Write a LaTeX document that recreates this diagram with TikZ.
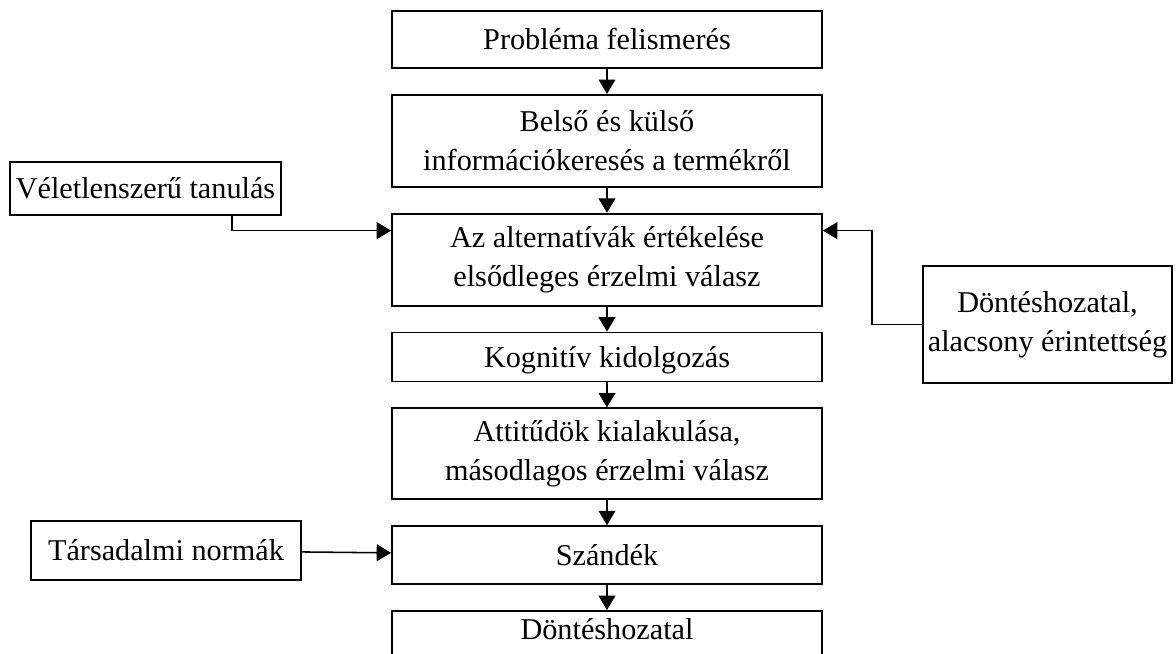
\documentclass[tikz,border=0pt]{standalone}
\usepackage{fontspec}
\setmainfont{Liberation Serif}
\usetikzlibrary{positioning,arrows.meta}

\begin{document}
\begin{tikzpicture}[
  node distance=0.625cm,
  mainbox/.style={rectangle, draw=black, line width=1.3pt, minimum width=10.75cm, align=center, font=\fontsize{21.5}{27.5}\selectfont},
  sidebox/.style={rectangle, draw=black, line width=1.3pt, align=center, font=\fontsize{21.5}{27.5}\selectfont},
  arrow/.style = {line width=1.1pt,-{Triangle[length=0.36cm,width=0.42cm]}}
]
\useasboundingbox (0,0) rectangle (29.4,-16.325);

%Nodes
\node[mainbox, minimum height=1.425cm] (prob) at (15.175,-0.9875) {Probléma felismerés};
\node[mainbox, minimum height=2.3cm, below=of prob] (info) {Belső és külső \\ információkeresés a termékről};
\node[mainbox, minimum height=2.3cm, below=of info] (alt) {Az alternatívák értékelése \\ elsődleges érzelmi válasz};
\node[mainbox, minimum height=1.225cm, text depth=0pt, below=of alt] (kogn) {Kognitív kidolgozás};
\node[mainbox, minimum height=2.275cm, below=of kogn] (att) {Attitűdök kialakulása, \\ másodlagos érzelmi válasz};
\node[mainbox, minimum height=1.45cm, below=of att] (szand) {Szándék};
\node[mainbox, minimum height=2cm, below=of szand] (dont) {Döntéshozatal \\[-4pt] \strut};

%Side boxes
\node[sidebox, minimum width=6.775cm, minimum height=1.325cm] (vel) at (3.6375,-4.7125) {Véletlenszerű tanulás};
\node[sidebox, minimum width=6.225cm, minimum height=2.925cm] (alacs) at (26.1875,-8.1125) {Döntéshozatal, \\ alacsony érintettség};
\node[sidebox, minimum width=6.75cm, minimum height=1.475cm] (tars) at (4.15,-13.7625) {Társadalmi normák};

%Arrows
\draw[arrow] (prob) -- (info);
\draw[arrow] (info) -- (alt);
\draw[arrow] (alt) -- (kogn);
\draw[arrow] (kogn) -- (att);
\draw[arrow] (att) -- (szand);
\draw[arrow] (szand) -- (dont);

% Influences
\draw[arrow] ([xshift=2.16cm]vel.south) |- ([yshift=0.725cm]alt.west);
\draw[arrow] (alacs.west) -- ++(-1.25cm,0) |- ([yshift=0.725cm]alt.east);
\draw[arrow] (tars) -- (szand);

\end{tikzpicture}
\end{document}
